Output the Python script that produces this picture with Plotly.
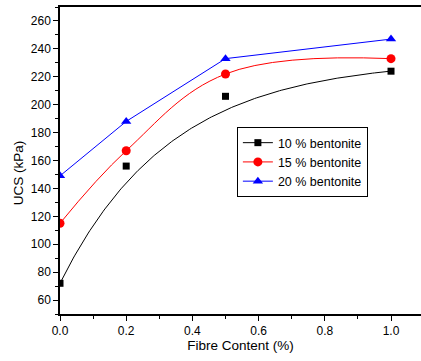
import numpy as np
import plotly.graph_objects as go

fibre = [0.0, 0.2, 0.5, 1.0]
ucs_10 = [72, 156, 206, 224]
ucs_15 = [115, 167, 222, 233]
ucs_20 = [149, 188, 233, 247]
names = ["10 % bentonite", "15 % bentonite", "20 % bentonite"]

# exponential trend fitted to the 10 % series (y = A - B*exp(-C*x))
FIT_A, FIT_B, FIT_C = 232.2, 160.2, 2.98

xfit = np.linspace(min(fibre), max(fibre), 200)
yfit = FIT_A - FIT_B * np.exp(-FIT_C * xfit)

font = "Liberation Sans, Arial, sans-serif"
fig = go.Figure()

# 10 % : fitted curve + markers
fig.add_trace(go.Scatter(x=xfit, y=yfit, mode="lines",
                         line=dict(color="black", width=1), showlegend=False, hoverinfo="skip"))
fig.add_trace(go.Scatter(x=fibre, y=ucs_10, mode="markers",
                         marker=dict(symbol="square", size=7, color="black"), showlegend=False))
fig.add_trace(go.Scatter(x=[None], y=[None], mode="lines+markers", name=names[0],
                         line=dict(color="black", width=1),
                         marker=dict(symbol="square", size=7, color="black")))
# 15 %
fig.add_trace(go.Scatter(x=fibre, y=ucs_15, mode="lines+markers", name=names[1],
                         line=dict(color="#FF0000", width=1, shape="spline", smoothing=1.1),
                         marker=dict(symbol="circle", size=9, color="#FF0000")))
# 20 %
fig.add_trace(go.Scatter(x=fibre, y=ucs_20, mode="lines+markers", name=names[2],
                         line=dict(color="#0000FF", width=1),
                         marker=dict(symbol="triangle-up", size=9, color="#0000FF")))

axis_common = dict(showline=True, linecolor="black", linewidth=1.5, mirror=True,
                   ticks="outside", ticklen=5, tickwidth=1.2, tickcolor="black",
                   showgrid=False, zeroline=False, automargin=False,
                   tickfont=dict(family=font, size=12, color="black"))

fig.update_layout(
    width=421, height=361,
    margin=dict(l=60, r=0, t=7, b=47),
    paper_bgcolor="white", plot_bgcolor="white",
    font=dict(family=font, size=12, color="black"),
    xaxis=dict(range=[0, 1.0906], tickvals=[0, 0.2, 0.4, 0.6, 0.8, 1.0],
               ticktext=["0.0", "0.2", "0.4", "0.6", "0.8", "1.0"],
               minor=dict(dtick=0.1, ticks="outside", ticklen=3, tickcolor="black"),
               title=dict(text="Fibre Content (%)", font=dict(family=font, size=13.5), standoff=0),
               **axis_common),
    yaxis=dict(range=[50, 270], tickvals=list(range(60, 261, 20)),
               minor=dict(dtick=10, ticks="outside", ticklen=3, tickcolor="black"),
               **axis_common),
    legend=dict(x=0.49, y=0.609, xanchor="left", yanchor="top",
                bordercolor="black", borderwidth=1, bgcolor="white",
                font=dict(family=font, size=12.5), tracegroupgap=0),
    showlegend=True,
    annotations=[dict(text="UCS (kPa)", textangle=-90, xref="paper", yref="paper",
                      x=-0.116, y=0.459, xanchor="center", yanchor="middle",
                      showarrow=False, font=dict(family=font, size=13.5, color="black"))],
)

fig.write_html("out.html", config={"displayModeBar": False},
               post_script="document.body.style.margin='0px';document.body.style.overflow='hidden';")
